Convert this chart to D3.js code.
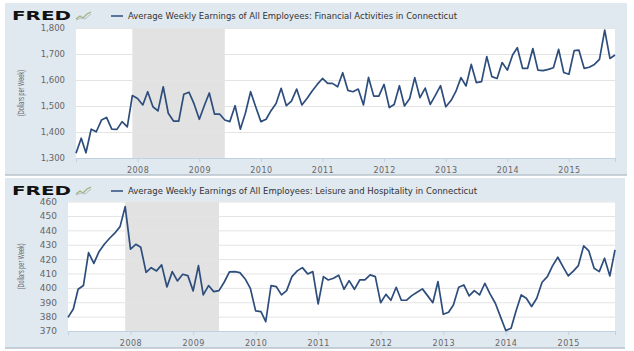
<!DOCTYPE html>
<html>
<head>
<meta charset="utf-8">
<script src="https://cdn.jsdelivr.net/npm/d3@7"></script>
<style>
  body { margin: 0; background: #fff; }
  svg { display: block; }
</style>
</head>
<body>
<script>
// monthly data, Jan 2007 .. Oct 2015
var firstMonth = new Date(2007, 0, 1);
var lastMonth = new Date(2015, 9, 1);
var recession = [new Date(2007, 11, 1), new Date(2009, 5, 1)];
var yearTicks = [2008, 2009, 2010, 2011, 2012, 2013, 2014, 2015];

var financeTitle = "Average Weekly Earnings of All Employees: Financial Activities in Connecticut";
var financeTicks = [1300, 1400, 1500, 1600, 1700, 1800];
var financeValues = [
  1318, 1376, 1320, 1411, 1401, 1446, 1456, 1411, 1410, 1440, 1420, 1540,
  1529, 1504, 1555, 1497, 1481, 1574, 1472, 1442, 1442, 1545, 1553, 1508,
  1449, 1504, 1550, 1469, 1469, 1446, 1440, 1501, 1411, 1472, 1555, 1497,
  1440, 1449, 1481, 1510, 1568, 1501, 1519, 1565, 1504, 1529, 1558, 1583,
  1606, 1587, 1587, 1574, 1628, 1560, 1555, 1565, 1504, 1610, 1538, 1538,
  1583, 1494, 1506, 1578, 1500, 1529, 1609, 1532, 1569, 1506, 1542, 1578,
  1497, 1521, 1555, 1609, 1577, 1660, 1590, 1594, 1690, 1613, 1606, 1667,
  1638, 1696, 1724, 1645, 1645, 1721, 1638, 1636, 1641, 1647, 1718, 1629,
  1622, 1713, 1715, 1645, 1649, 1660, 1679, 1792, 1683, 1696
];

var leisureTitle = "Average Weekly Earnings of All Employees: Leisure and Hospitality in Connecticut";
var leisureTicks = [370, 380, 390, 400, 410, 420, 430, 440, 450, 460];
var leisureValues = [
  379.5, 385.3, 399.0, 401.6, 424.5, 417.0, 425.2, 430.3, 434.5, 438.0, 442.6, 456.5,
  427.0, 430.3, 428.2, 410.8, 414.0, 411.8, 416.0, 400.6, 411.3, 404.8, 409.5, 408.5,
  397.9, 415.5, 395.1, 401.6, 397.4, 398.1, 403.9, 411.1, 411.3, 410.6, 406.2, 399.7,
  384.0, 383.5, 376.5, 401.6, 400.9, 395.1, 398.1, 407.8, 411.8, 414.1, 409.7, 411.3,
  388.8, 407.8, 405.5, 406.7, 408.8, 399.0, 405.0, 399.0, 405.5, 405.5, 409.0, 407.8,
  389.7, 395.5, 391.4, 400.4, 391.4, 391.4, 394.6, 396.9, 399.3, 394.6, 389.7, 404.4,
  381.6, 383.0, 388.1, 400.4, 402.0, 394.4, 398.1, 395.1, 403.2, 395.8, 389.3, 380.0,
  370.3, 371.9, 383.5, 395.1, 392.8, 387.0, 392.8, 403.9, 407.8, 415.3, 421.3, 414.8,
  408.3, 411.8, 415.5, 429.2, 425.7, 413.6, 411.3, 420.6, 408.3, 426.4
];

var months = d3.timeMonth.range(firstMonth, d3.timeMonth.offset(lastMonth, 1));

var svg = d3.select("body").append("svg")
    .attr("width", 634)
    .attr("height", 351);

function drawPanel(opt) {
    var g = svg.append("g");

    // panel background
    g.append("rect")
        .attr("x", opt.panel[0]).attr("y", opt.panel[1])
        .attr("width", opt.panel[2]).attr("height", opt.panel[3])
        .attr("fill", "#e0e8f0");
    g.append("line")
        .attr("x1", opt.panel[0]).attr("x2", opt.panel[0] + opt.panel[2])
        .attr("y1", opt.panel[1] + opt.panel[3]).attr("y2", opt.panel[1] + opt.panel[3])
        .attr("stroke", "#b9c3cd").attr("stroke-width", 1.5);

    var x = d3.scaleTime()
        .domain([firstMonth, lastMonth])
        .range([opt.left, opt.right]);
    var y = d3.scaleLinear()
        .domain([opt.ticks[0], opt.ticks[opt.ticks.length - 1]])
        .range([opt.bottom, opt.top]);

    g.append("rect")
        .attr("x", opt.left).attr("y", opt.top)
        .attr("width", opt.right - opt.left).attr("height", opt.bottom - opt.top)
        .attr("fill", "#fff");

    g.append("rect")
        .attr("x", x(recession[0])).attr("y", opt.top)
        .attr("width", x(recession[1]) - x(recession[0]))
        .attr("height", opt.bottom - opt.top)
        .attr("fill", "#e2e2e2");

    // y grid + labels
    var yAxis = g.append("g")
        .attr("transform", "translate(" + opt.left + ",0)")
        .call(d3.axisLeft(y).tickValues(opt.ticks)
            .tickSize(-(opt.right - opt.left))
            .tickPadding(11)
            .tickFormat(d3.format(",")));
    yAxis.select(".domain").remove();
    yAxis.selectAll(".tick line").attr("stroke", "#e4e4e4");
    yAxis.selectAll(".tick text")
        .attr("fill", "#666")
        .style("font-family", "DejaVu Sans")
        .style("font-size", opt.tickFont + "px");

    // x axis
    var xAxis = g.append("g")
        .attr("transform", "translate(0," + opt.bottom + ")")
        .call(d3.axisBottom(x)
            .tickValues(yearTicks.map(function(yr){ return new Date(yr, 0, 1); }))
            .tickSize(4)
            .tickPadding(5)
            .tickFormat(d3.timeFormat("%Y")));
    xAxis.select(".domain").attr("stroke", "#c0d0e0");
    xAxis.selectAll(".tick line").attr("stroke", "#c0d0e0");
    xAxis.selectAll(".tick text")
        .attr("fill", "#666")
        .style("font-family", "DejaVu Sans")
        .style("font-size", "8px")
        .style("letter-spacing", "0.5px");

    var line = d3.line()
        .x(function(d, i){ return x(months[i]); })
        .y(function(d){ return y(d); });
    g.append("path")
        .attr("d", line(opt.values))
        .attr("fill", "none")
        .attr("stroke", "#2d4d7c")
        .attr("stroke-width", 1.7)
        .attr("stroke-linejoin", "round");

    // y axis title
    var midY = (opt.top + opt.bottom) / 2;
    g.append("text")
        .attr("transform", "translate(24," + midY + ") rotate(-90)")
        .attr("text-anchor", "middle")
        .attr("textLength", 46)
        .attr("lengthAdjust", "spacingAndGlyphs")
        .attr("fill", "#666")
        .style("font-family", "Liberation Sans Narrow, Liberation Sans")
        .style("font-size", "9px")
        .text("(Dollars per Week)");

    // header: logo, icon, legend, title
    var hy = opt.panel[1] + 12;
    g.append("text")
        .attr("x", 12).attr("y", hy + 4.5)
        .attr("textLength", 59)
        .attr("lengthAdjust", "spacingAndGlyphs")
        .attr("fill", "#111")
        .style("font-family", "DejaVu Sans")
        .style("font-weight", "900")
        .style("font-size", "13px")
        .text("FRED");
    g.append("path")
        .attr("d", "M76," + (hy + 4) + " l4,-3 l3,2 l4,-4 l4,-2")
        .attr("fill", "none").attr("stroke", "#9ab57a").attr("stroke-width", 1.2);
    g.append("path")
        .attr("d", "M76," + (hy + 5) + " l5,-2 l4,1 l6,-5")
        .attr("fill", "none").attr("stroke", "#b5bcc4").attr("stroke-width", 1);
    g.append("line")
        .attr("x1", 111).attr("x2", 123)
        .attr("y1", hy + 1).attr("y2", hy + 1)
        .attr("stroke", "#2d4d7c").attr("stroke-width", 1.5);
    g.append("text")
        .attr("x", 128).attr("y", hy + 4)
        .attr("textLength", opt.titleWidth)
        .attr("lengthAdjust", "spacingAndGlyphs")
        .attr("fill", "#333")
        .style("font-family", "DejaVu Sans")
        .style("font-size", "8.5px")
        .text(opt.title);
}

drawPanel({
    panel: [5, 3, 622, 172],
    left: 76, right: 615, top: 28, bottom: 158,
    ticks: financeTicks, values: financeValues,
    title: financeTitle, titleWidth: 329, tickFont: 8.5
});

drawPanel({
    panel: [5, 178, 620, 170],
    left: 68, right: 615, top: 201.6, bottom: 331,
    ticks: leisureTicks, values: leisureValues,
    title: leisureTitle, titleWidth: 349, tickFont: 9
});
</script>
</body>
</html>
